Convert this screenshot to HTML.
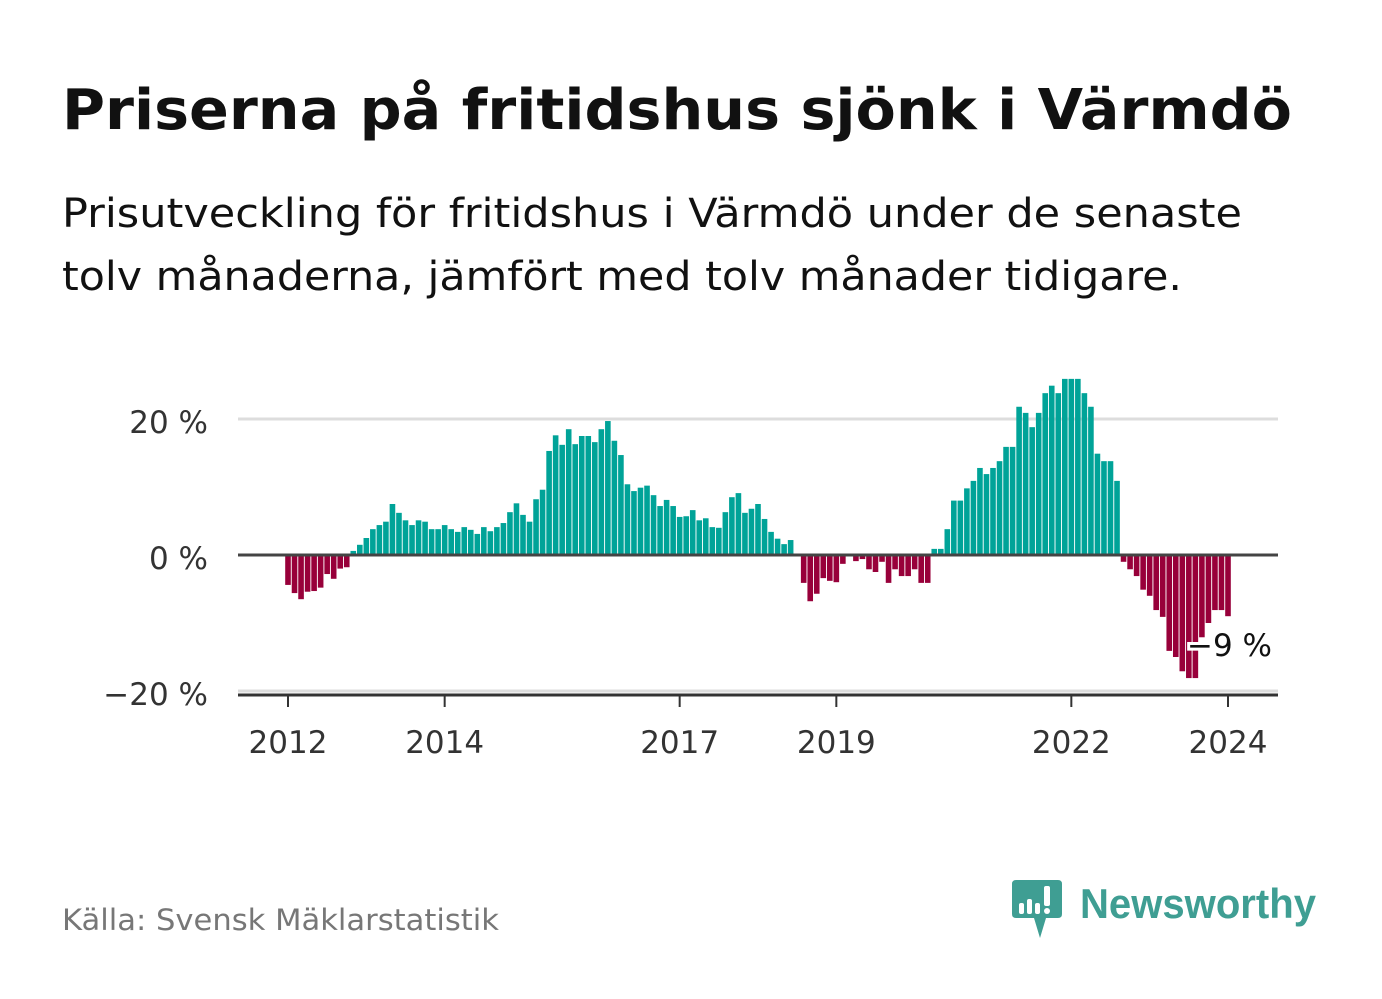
<!DOCTYPE html>
<html><head><meta charset="utf-8"><style>
html,body{margin:0;padding:0;background:#fff;}
svg{display:block;font-family:"DejaVu Sans","Liberation Sans",sans-serif;}
</style></head><body>
<svg id="chart" width="1382" height="999" viewBox="0 0 1382 999" xmlns="http://www.w3.org/2000/svg">
<text x="62" y="129" font-size="56" font-weight="bold" fill="#111" textLength="1230" lengthAdjust="spacingAndGlyphs">Priserna på fritidshus sjönk i Värmdö</text>
<text x="62" y="227" font-size="40" fill="#111" textLength="1180" lengthAdjust="spacingAndGlyphs">Prisutveckling för fritidshus i Värmdö under de senaste</text>
<text x="62" y="290" font-size="40" fill="#111" textLength="1120" lengthAdjust="spacingAndGlyphs">tolv månaderna, jämfört med tolv månader tidigare.</text>
<g id="grid"></g>
<g id="bars"></g>
<g id="axes"></g>
<text x="62" y="930" font-size="29" fill="#777" textLength="437" lengthAdjust="spacingAndGlyphs">Källa: Svensk Mäklarstatistik</text>
<g>
<path d="M1016 880 H1058 Q1062 880 1062 884 V914 Q1062 918 1058 918 H1046 L1040 938 L1034 918 H1016 Q1012 918 1012 914 V884 Q1012 880 1016 880 Z" fill="#3f9e93"/>
<rect x="1019" y="903" width="5" height="11" rx="2" fill="#fff"/>
<rect x="1027" y="899" width="5" height="15" rx="2" fill="#fff"/>
<rect x="1035" y="903" width="5" height="11" rx="2" fill="#fff"/>
<rect x="1044" y="886" width="6" height="20" rx="2" fill="#fff"/>
<circle cx="1047" cy="911" r="3" fill="#fff"/>
<text x="1080" y="918" font-size="42" font-weight="bold" fill="#3f9e93" font-family="Liberation Sans, sans-serif" textLength="236" lengthAdjust="spacingAndGlyphs">Newsworthy</text>
</g>
</svg>
<script>
const values = [-4.4,-5.6,-6.5,-5.4,-5.3,-4.8,-2.8,-3.5,-2.0,-1.8,
0.6,1.5,2.5,3.8,4.4,4.9,7.5,6.2,5.1,4.4,5.1,4.9,3.8,3.8,4.4,3.8,3.4,4.1,3.7,3.1,4.1,3.5,4.1,4.7,6.3,7.6,
5.9,4.9,8.2,9.6,15.3,17.6,16.2,18.5,16.3,17.5,17.5,16.6,18.5,19.7,16.8,14.7,10.4,9.4,9.9,10.2,8.8,7.2,8.1,7.2,5.6,5.7,6.6,5.1,5.4,4.1,4.0,6.3,8.5,9.1,6.2,6.8,7.5,5.3,3.4,2.4,1.6,2.2,
0,-4.1,-6.8,-5.7,-3.4,-3.8,-4.0,-1.3,0,-0.9,-0.6,-2.1,-2.5,-1.0,-4.1,-2.1,-3.1,-3.1,-2.1,-4.1,-4.1,
0.9,0.9,3.8,8.0,8.0,9.8,10.9,12.8,11.9,12.8,13.8,15.9,15.9,21.8,20.9,
18.8,20.9,23.8,24.9,23.8,25.9,25.9,25.9,23.8,21.8,14.9,13.8,13.8,10.9,
-1.0,-2.1,-3.1,-5.1,-6.0,-8.1,-9.1,-14.1,-15.0,-17.1,-18.1,-18.1,-12.1,-10.0,-8.1,-8.1,-9.0];
const startYear = 2012;
const xTickYears = [2012,2014,2017,2019,2022,2024];
const yTicks = [20,0,-20];
const yTickLabels = ["20 %","0 %","−20 %"];
const lastLabel = "−9 %";

const NS="http://www.w3.org/2000/svg";
const x0=288, x1=1228, y0=555, pxPer=6.8;
const n=values.length;
const step=(x1-x0)/(n-1);
const xScale=i=>x0+i*step;
const yScale=v=>y0-v*pxPer;
function mk(tag,attrs,parent){const e=document.createElementNS(NS,tag);for(const k in attrs)e.setAttribute(k,attrs[k]);parent.appendChild(e);return e;}
const grid=document.getElementById('grid'),bars=document.getElementById('bars'),axes=document.getElementById('axes');
yTicks.forEach((t,k)=>{
  if(t!==0){const l=mk('line',{x1:238,x2:1278,y1:yScale(t),y2:yScale(t),stroke:'#ddd','stroke-width':3},grid);
  
  }
  const tx=mk('text',{x:208,y:yScale(t)+14,'font-size':31,fill:'#333','text-anchor':'end'},axes);
  tx.textContent=yTickLabels[k];
  
  
});
values.forEach((v,i)=>{
  const y=Math.min(yScale(v),y0), h=Math.abs(yScale(v)-y0);
  if(h<=0)return;
  const r=mk('rect',{x:xScale(i)-2.8,y:y,width:5.6,height:h,fill:v>=0?'#00a398':'#98003a'},bars);
  
  
});
const zl=mk('line',{x1:238,x2:1278,y1:y0,y2:y0,stroke:'#444','stroke-width':3},axes);


const xa=mk('line',{x1:238,x2:1278,y1:695,y2:695,stroke:'#333','stroke-width':3},axes);


xTickYears.forEach(yr=>{
  const xx=xScale((yr-startYear)*12);
  const tk=mk('line',{x1:xx,x2:xx,y1:695,y2:707,stroke:'#333','stroke-width':2},axes);
  
  
  const t=mk('text',{x:xx,y:753,'font-size':31,fill:'#333','text-anchor':'middle'},axes);
  t.textContent=yr;
  
  
});
const lb=mk('text',{x:xScale(n-1)-41,y:656,'font-size':31,fill:'#111',stroke:'#fff','stroke-width':6,'paint-order':'stroke'},axes);
lb.textContent=lastLabel;


</script>
</body></html>
